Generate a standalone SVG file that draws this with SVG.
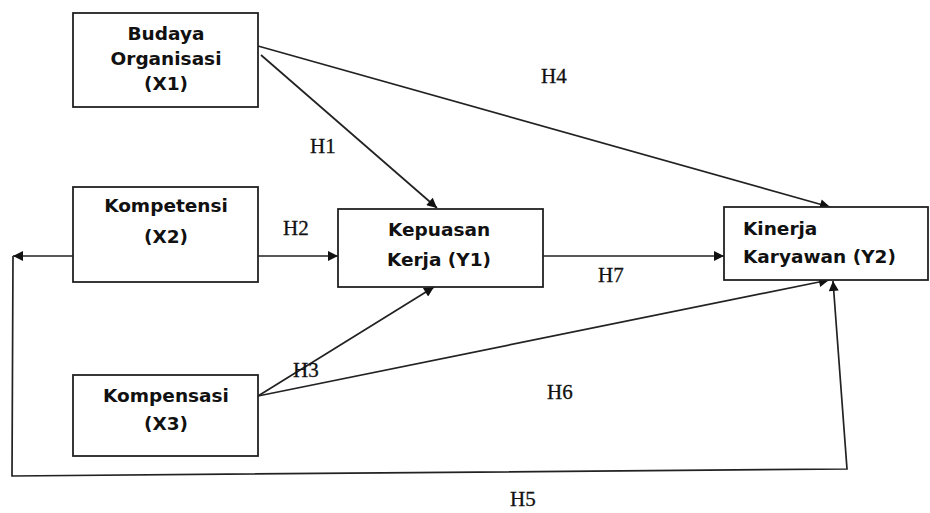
<svg xmlns="http://www.w3.org/2000/svg" width="930" height="513" viewBox="0 0 930 513">
<defs>
<marker id="arr" viewBox="0 0 10 10" refX="10" refY="5" markerWidth="12" markerHeight="10" markerUnits="userSpaceOnUse" orient="auto">
<path d="M0,0 L10,5 L0,10 z" fill="#111"/>
</marker>
</defs>
<style>
.box{fill:#fff;stroke:#222;stroke-width:1.8}
.t{font-family:"DejaVu Sans",Verdana,sans-serif;font-weight:bold;font-size:18.5px;fill:#111}
.c{text-anchor:middle}
.lbl{font-family:"Liberation Serif","Times New Roman",serif;font-size:21px;fill:#111;stroke:#111;stroke-width:0.3}
.ln{fill:none;stroke:#222;stroke-width:1.7}
</style>
<rect width="930" height="513" fill="#fff"/>
<g id="connectors">
<line class="ln" x1="258" y1="46" x2="830" y2="207" marker-end="url(#arr)"/>
<line class="ln" x1="261" y1="55" x2="437" y2="208" marker-end="url(#arr)"/>
<line class="ln" x1="258" y1="256" x2="338" y2="256" marker-end="url(#arr)"/>
<line class="ln" x1="543" y1="256" x2="724" y2="256" marker-end="url(#arr)"/>
<line class="ln" x1="258" y1="396" x2="434" y2="287" marker-end="url(#arr)"/>
<line class="ln" x1="258" y1="396" x2="829" y2="280" marker-end="url(#arr)"/>
<line class="ln" x1="73" y1="256" x2="13" y2="256" marker-end="url(#arr)"/>
<polyline class="ln" points="13,256 12,476 847,469 833,281" marker-end="url(#arr)"/>
</g>
<g id="x1">
<rect class="box" x="73" y="13" width="185" height="94"/>
<text class="t c" x="166" y="40">Budaya</text>
<text class="t c" x="166" y="65">Organisasi</text>
<text class="t c" x="166" y="90">(X1)</text>
</g>
<g id="x2">
<rect class="box" x="73" y="187" width="185" height="95"/>
<text class="t c" x="166" y="212">Kompetensi</text>
<text class="t c" x="166" y="243">(X2)</text>
</g>
<g id="x3">
<rect class="box" x="73" y="375" width="185" height="81"/>
<text class="t c" x="166" y="402">Kompensasi</text>
<text class="t c" x="166" y="430">(X3)</text>
</g>
<g id="y1">
<rect class="box" x="338" y="209" width="205" height="78"/>
<text class="t c" x="439" y="236">Kepuasan</text>
<text class="t c" x="439" y="266">Kerja (Y1)</text>
</g>
<g id="y2">
<rect class="box" x="724" y="207" width="204" height="73"/>
<text class="t" x="743" y="235">Kinerja</text>
<text class="t" x="743" y="263">Karyawan (Y2)</text>
</g>
<g id="labels">
<text class="lbl" x="310" y="153">H1</text>
<text class="lbl" x="283" y="235">H2</text>
<text class="lbl" x="293" y="377">H3</text>
<text class="lbl" x="541" y="83">H4</text>
<text class="lbl" x="510" y="506">H5</text>
<text class="lbl" x="547" y="399">H6</text>
<text class="lbl" x="598" y="282">H7</text>
</g>
</svg>
